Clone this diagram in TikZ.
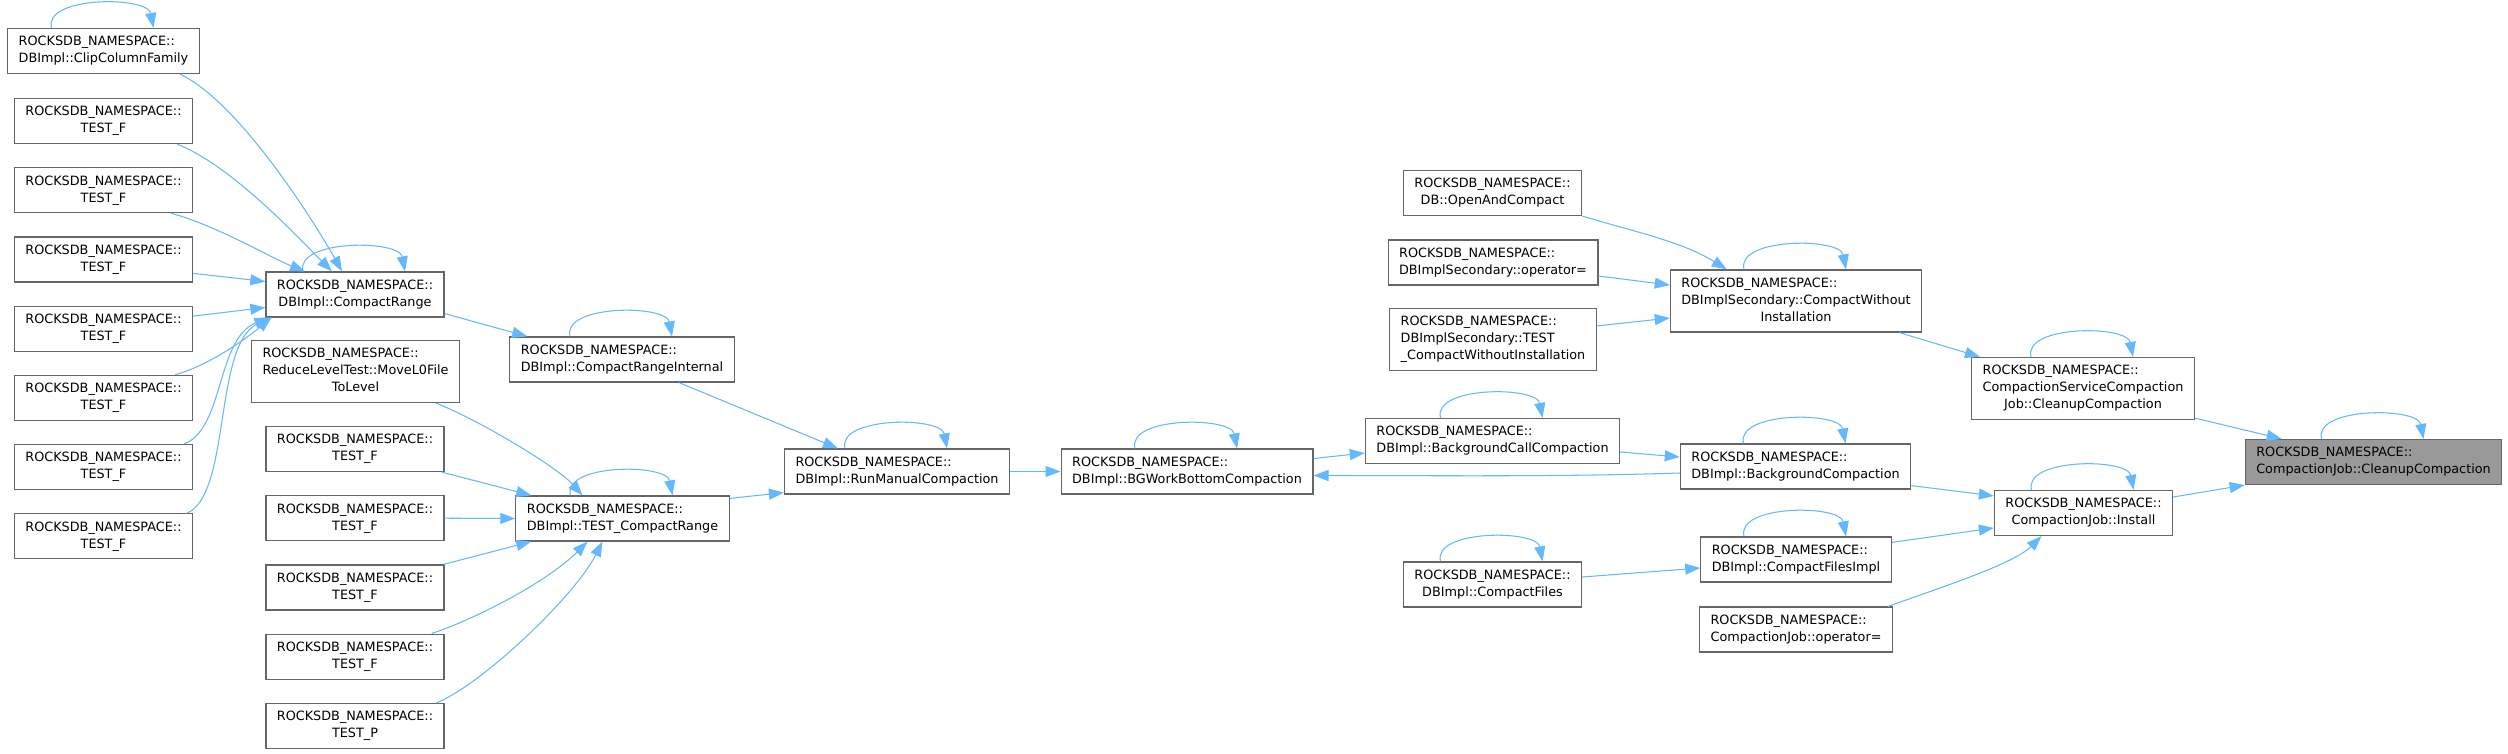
\documentclass[tikz,border=0pt]{standalone}
\usepackage{fontspec}
\setmainfont{DejaVu Sans}
\usetikzlibrary{arrows.meta,calc}
\definecolor{edgeblue}{HTML}{63B8FF}
\definecolor{boxgray}{HTML}{666666}
\definecolor{rootfill}{HTML}{999999}
\newcommand\dlabel[2]{\begin{tabular}{@{}l@{}}#1\\\multicolumn{1}{@{}c@{}}{#2}\end{tabular}}
\newcommand\rns{ROCKSDB\_NAMESPACE::}
\newcommand\selfloop[1]{\draw[edge] ($(#1.north)+(-52,0)$) .. controls +(-8,-32) and +(-6,-32) .. ($(#1.north)+(50,0)$);}
\begin{document}
\begin{tikzpicture}[x=1pt,y=-1pt,
 box/.style={draw=boxgray, fill=white, line width=1.2pt, inner xsep=11pt, inner ysep=5.5pt, font=\fontsize{12.8}{17}\selectfont},
 root/.style={box, fill=rootfill},
 edge/.style={draw=edgeblue, line width=1.05pt, -{Triangle[length=15pt,width=11pt]}},
]
\fill[white] (0,0) rectangle (2508,754);
\useasboundingbox (0,0) rectangle (2508,754);

% column 1
\node[box] (clip) at (103.5,51) {\dlabel{\rns}{DBImpl::ClipColumnFamily}};
\node[box] (ta) at (103.5,121) {\dlabel{\rns}{TEST\_F}};
\node[box] (tb) at (103.5,190.2) {\dlabel{\rns}{TEST\_F}};
\node[box] (tc) at (103.5,259.4) {\dlabel{\rns}{TEST\_F}};
\node[box] (td) at (103.5,328.6) {\dlabel{\rns}{TEST\_F}};
\node[box] (te) at (103.5,397.8) {\dlabel{\rns}{TEST\_F}};
\node[box] (tf) at (103.5,467) {\dlabel{\rns}{TEST\_F}};
\node[box] (tg) at (103.5,536.2) {\dlabel{\rns}{TEST\_F}};

% column 2
\node[box] (cr) at (355,294.5) {\dlabel{\rns}{DBImpl::CompactRange}};
\node[box] (move) at (355.5,371.5) {\dlabel{\rns\\ReduceLevelTest::MoveL0File}{ToLevel}};
\node[box] (th) at (355,449) {\dlabel{\rns}{TEST\_F}};
\node[box] (ti) at (355,518.2) {\dlabel{\rns}{TEST\_F}};
\node[box] (tj) at (355,587.4) {\dlabel{\rns}{TEST\_F}};
\node[box] (tk) at (355,656.6) {\dlabel{\rns}{TEST\_F}};
\node[box] (tp) at (355,725.8) {\dlabel{\rns}{TEST\_P}};

% column 3
\node[box] (cri) at (622,359.5) {\dlabel{\rns}{DBImpl::CompactRangeInternal}};
\node[box] (tcr) at (622.5,518.5) {\dlabel{\rns}{DBImpl::TEST\_CompactRange}};

% column 4,5
\node[box] (rmc) at (897,471.5) {\dlabel{\rns}{DBImpl::RunManualCompaction}};
\node[box] (bgw) at (1187,471.5) {\dlabel{\rns}{DBImpl::BGWorkBottomCompaction}};

% column 6
\node[box] (oac) at (1492.5,193) {\dlabel{\rns}{DB::OpenAndCompact}};
\node[box] (dso) at (1493,262.5) {\dlabel{\rns}{DBImplSecondary::operator=}};
\node[box] (tcwi) at (1493,339.5) {\dlabel{\rns\\DBImplSecondary::TEST}{\_CompactWithoutInstallation}};
\node[box] (bcc) at (1492.5,441) {\dlabel{\rns}{DBImpl::BackgroundCallCompaction}};
\node[box] (cf) at (1492.5,584.5) {\dlabel{\rns}{DBImpl::CompactFiles}};

% column 7
\node[box] (cwi) at (1796,301) {\dlabel{\rns\\DBImplSecondary::CompactWithout}{Installation}};
\node[box] (bc) at (1795.5,466.5) {\dlabel{\rns}{DBImpl::BackgroundCompaction}};
\node[box] (cfi) at (1796,559.5) {\dlabel{\rns}{DBImpl::CompactFilesImpl}};
\node[box] (cjo) at (1796,629.5) {\dlabel{\rns}{CompactionJob::operator=}};

% column 8,9
\node[box] (css) at (2083,388.5) {\dlabel{\rns\\CompactionServiceCompaction}{Job::CleanupCompaction}};
\node[box] (inst) at (2083.5,513) {\dlabel{\rns}{CompactionJob::Install}};
\node[root] (cc) at (2373.5,462) {\dlabel{\rns}{CompactionJob::CleanupCompaction}};

% edges into CompactRange
\draw[edge] ($(clip.south east)+(-20,0)$) .. controls +(60,28) and +(-25,-45) .. ($(cr.north)+(-13,0)$);
\draw[edge] ($(ta.south east)+(-16,0)$) .. controls +(55,22) and +(-35,-35) .. ($(cr.north)+(-23,0)$);
\draw[edge] ($(tb.south east)+(-22,0)$) .. controls +(45,12) and +(-35,-14) .. ($(cr.north)+(-50,0)$);
\draw[edge] ($(tc.east)+(0,14)$) -- ($(cr.west)+(0,-13)$);
\draw[edge] ($(td.east)+(0,-12.5)$) -- ($(cr.west)+(0,13)$);
\draw[edge] ($(te.north east)+(-18,0)$) .. controls +(30,-8) and +(-30,25) .. ($(cr.south west)+(6,0)$);
\draw[edge] ($(tf.north east)+(-9,0)$) .. controls +(40,-15) and +(-53,21) .. ($(cr.south west)+(4,0)$);
\draw[edge] ($(tg.north east)+(-6,0)$) .. controls +(44,-19) and +(-58,26) .. ($(cr.south west)+(6,0)$);
\selfloop{clip}
\selfloop{cr}

\draw[edge] ($(cr.south east)+(0,-4)$) -- ($(cri.north west)+(18,0)$);
\selfloop{cri}
\draw[edge] ($(cri.south)+(57,0)$) -- ($(rmc.north west)+(54,0)$);

% edges into TEST_CompactRange
\draw[edge] ($(move.south east)+(-24,0)$) .. controls +(45,18) and +(-25,-28) .. ($(tcr.north)+(-40,0)$);
\draw[edge] ($(th.south east)+(-3,0)$) -- ($(tcr.north west)+(16,0)$);
\draw[edge] (ti.east) -- (tcr.west);
\draw[edge] ($(tj.north east)+(-1,0)$) -- ($(tcr.south west)+(16,0)$);
\draw[edge] ($(tk.north east)+(-13,0)$) .. controls +(45,-15) and +(-40,40) .. ($(tcr.south)+(-35,0)$);
\draw[edge] ($(tp.north east)+(-8,0)$) .. controls +(45,-18) and +(-28,55) .. ($(tcr.south)+(-20,0)$);
\selfloop{tcr}
\draw[edge] ($(tcr.north east)+(0,3)$) -- ($(rmc.south west)+(0,-2)$);

\selfloop{rmc}
\draw[edge] (rmc.east) -- (bgw.west);
\selfloop{bgw}
\draw[edge] ($(bgw.east)+(0,-13)$) -- ($(bcc.west)+(0,12)$);
\selfloop{bcc}
\draw[edge] ($(bcc.east)+(0,11)$) -- ($(bc.west)+(0,-9.5)$);
\draw[edge] ($(bc.west)+(0,6.5)$) .. controls +(-120,4) and +(120,0) .. ($(bgw.east)+(0,4)$);
\selfloop{bc}
\draw[edge] ($(bc.south east)+(0,-4)$) -- ($(inst.north west)+(0,6)$);

\selfloop{cf}
\draw[edge] ($(cf.east)+(0,-7.5)$) -- ($(cfi.west)+(0,8.5)$);
\selfloop{cfi}
\draw[edge] ($(cfi.north east)+(0,6)$) -- ($(inst.west)+(0,15)$);
\draw[edge] ($(cjo.north east)+(-5,0)$) .. controls +(50,-18) and +(-28,28) .. ($(inst.south)+(-42,0)$);

\draw[edge] (oac.south east) .. controls +(50,15) and +(-45,-28) .. ($(cwi.north west)+(57,0)$);
\draw[edge] ($(dso.east)+(0,13.5)$) -- ($(cwi.west)+(0,-16)$);
\draw[edge] ($(tcwi.east)+(0,-13.5)$) -- ($(cwi.west)+(0,17)$);
\selfloop{cwi}
\draw[edge] ($(cwi.south east)+(-23,0)$) -- ($(css.north west)+(9,0)$);

\selfloop{css}
\selfloop{inst}
\selfloop{cc}
\draw[edge] ($(css.south east)+(0,-2)$) -- ($(cc.north west)+(37,0)$);
\draw[edge] ($(inst.east)+(0,-16)$) -- (cc.south west);
\end{tikzpicture}
\end{document}
